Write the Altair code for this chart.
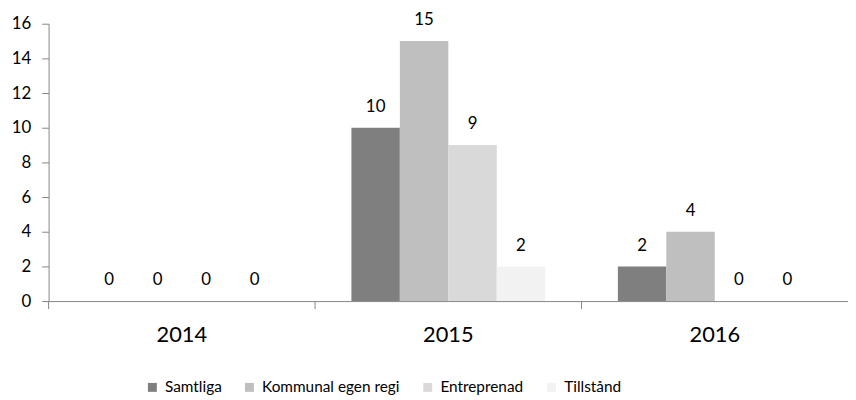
import altair as alt
import pandas as pd

years = ["2014", "2015", "2016"]
series = ["Samtliga", "Kommunal egen regi", "Entreprenad", "Tillstånd"]
samtliga = [0, 10, 2]
kommunal = [0, 15, 4]
entreprenad = [0, 9, 0]
tillstand = [0, 2, 0]
colors = ["#7f7f7f", "#bfbfbf", "#d9d9d9", "#f2f2f2"]
y_ticks = [0, 2, 4, 6, 8, 10, 12, 14, 16]

rows = []
for s, vals in zip(series, [samtliga, kommunal, entreprenad, tillstand]):
    for yr, v in zip(years, vals):
        rows.append({"year": yr, "series": s, "value": v})
df = pd.DataFrame(rows)
ticks_df = pd.DataFrame({"year": years})

FONT = "Lato"
W, H = 807, 280
AX = "#868686"

x_scale = alt.Scale(paddingInner=0, paddingOuter=0)
x_enc = alt.X(
    "year:N", sort=years, scale=x_scale,
    axis=alt.Axis(title=None, labelAngle=0, ticks=False, tickSize=0, domainColor=AX,
                  labelFontSize=22, labelFont=FONT, labelColor="#000", labelPadding=24),
)
xo_enc = alt.XOffset("series:N", sort=series,
                     scale=alt.Scale(paddingInner=0, paddingOuter=0.75))
y_enc = alt.Y(
    "value:Q", scale=alt.Scale(domain=[0, 16], nice=False),
    axis=alt.Axis(title=None, values=y_ticks, grid=False, domainColor=AX, tickColor=AX,
                  tickSize=7, labelPadding=11, labelFontSize=17, labelFont=FONT,
                  labelColor="#000"),
)
color_enc = alt.Color(
    "series:N", sort=series, scale=alt.Scale(domain=series, range=colors),
    legend=alt.Legend(title=None, orient="none", direction="horizontal",
                      legendX=97, legendY=359, symbolType="square", symbolSize=81,
                      symbolStrokeWidth=0, labelFontSize=15.5, labelFont=FONT,
                      labelColor="#000", columnPadding=20, labelOffset=5),
)

bars = alt.Chart(df).mark_bar().encode(x=x_enc, xOffset=xo_enc, y=y_enc, color=color_enc)
labels = alt.Chart(df).mark_text(dy=-16, baseline="alphabetic", fontSize=17, font=FONT,
                                 color="#000").encode(
    x=x_enc, xOffset=xo_enc, y=y_enc, text="value:Q")
tick_rules = alt.Chart(ticks_df).mark_rule(color=AX).encode(
    x=alt.X("year:N", sort=years, bandPosition=0),
    y=alt.value(H), y2=alt.value(H + 8))

chart = alt.layer(bars, labels, tick_rules).properties(
    width=W, height=H,
    autosize=alt.AutoSizeParams(type="none"),
    padding={"left": 41, "top": 14, "right": 0, "bottom": 98},
).configure_view(stroke=None)

chart.save("out.html", embed_options={"renderer": "svg", "actions": False})
